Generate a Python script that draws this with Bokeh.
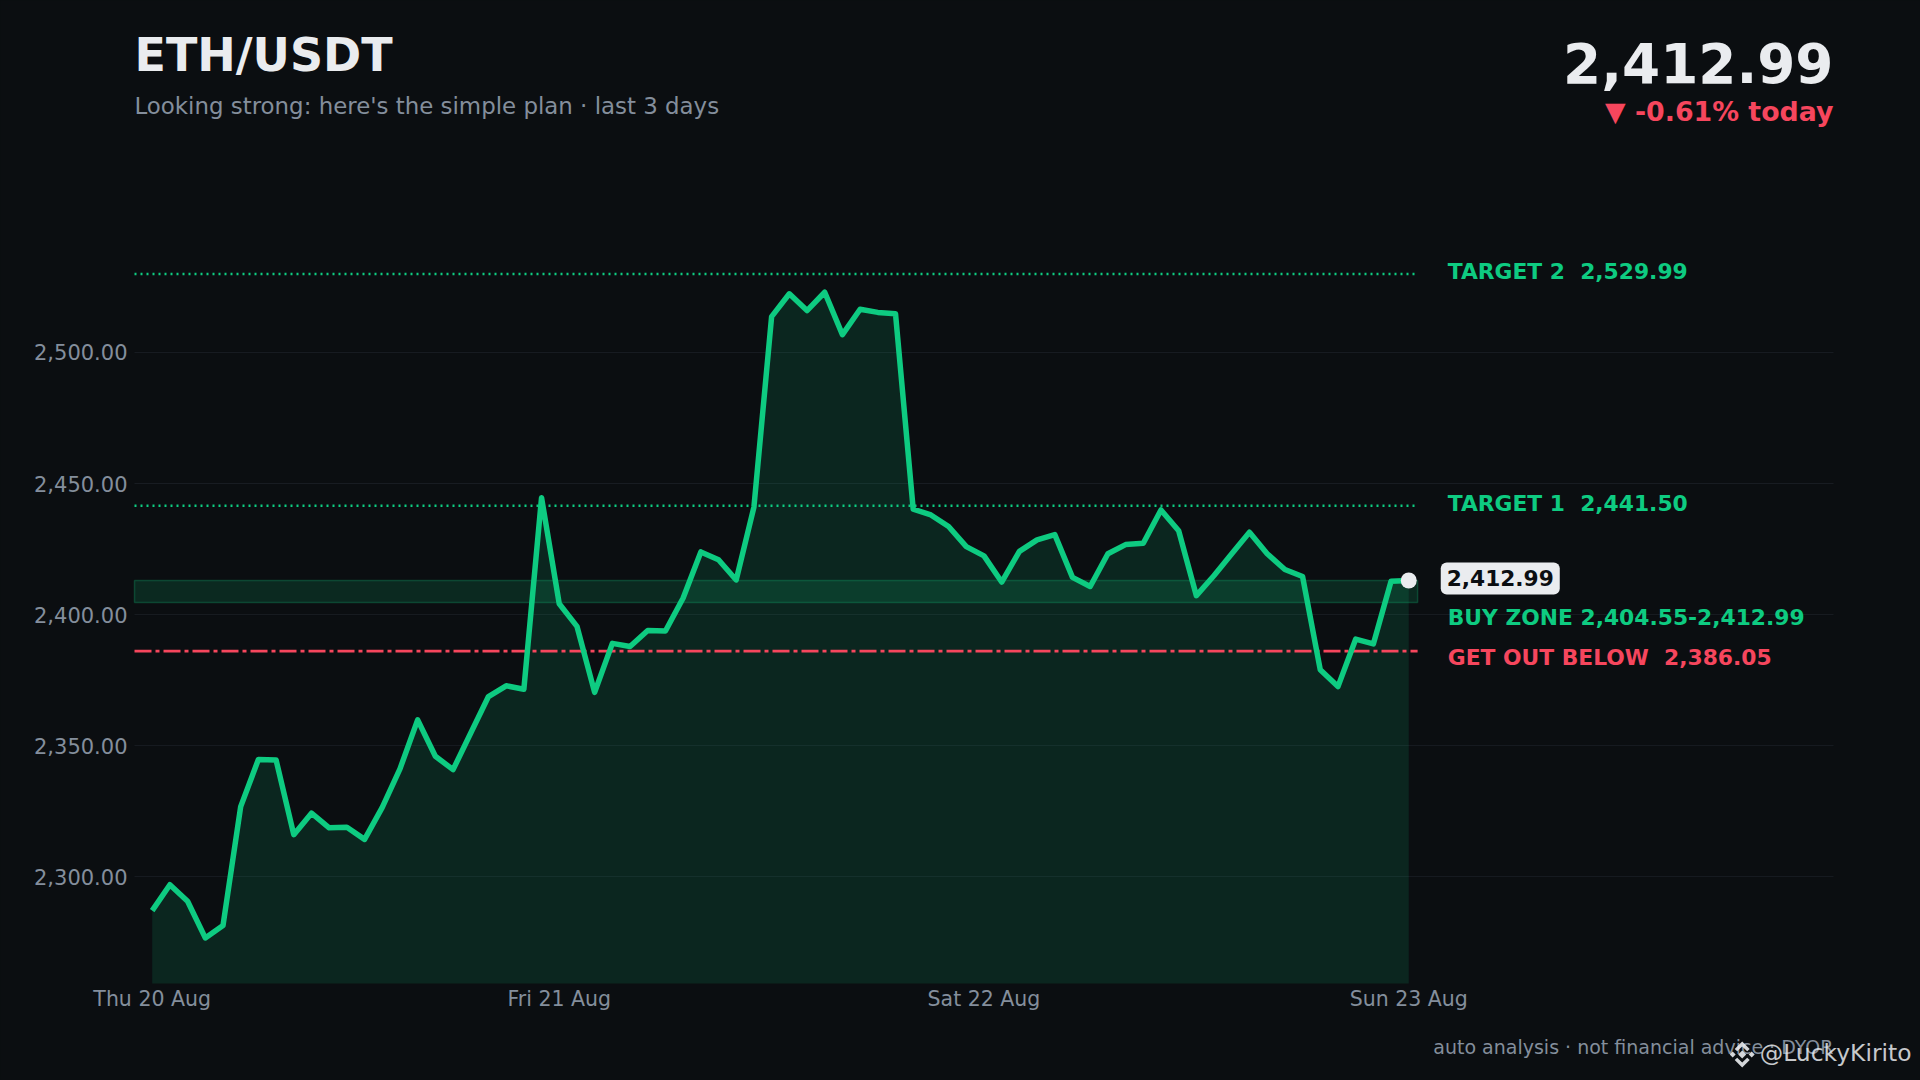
from bokeh.plotting import figure
from bokeh.models import Label, FixedTicker, GlobalInlineStyleSheet, PolyAnnotation
from bokeh.embed import file_html
from bokeh.resources import INLINE

prices = [2287.0,2296.9,2290.6,2276.6,2281.3,2326.7,2344.7,2344.5,2316.0,2324.2,2318.6,2318.8,
          2314.2,2326.4,2341.1,2359.8,2345.9,2340.8,2354.8,2368.7,2372.8,2371.5,2444.6,2404.1,
          2395.5,2370.3,2389.0,2387.8,2393.9,2393.7,2406.3,2423.9,2420.9,2413.2,2441.0,2513.7,
          2522.4,2516.0,2523.0,2506.8,2516.5,2515.3,2514.8,2440.2,2438.0,2433.6,2425.9,2422.4,
          2412.4,2424.1,2428.5,2430.5,2414.2,2410.7,2423.2,2426.7,2427.2,2439.9,2432.0,2407.2,
          2414.9,2423.2,2431.4,2423.2,2417.2,2414.5,2378.9,2372.5,2390.6,2388.8,2412.7,2412.99]
x_idx = list(range(len(prices)))
day_ticks = [0, 23, 47, 71]
day_labels = ["Thu 20 Aug", "Fri 21 Aug", "Sat 22 Aug", "Sun 23 Aug"]
y_ticks = [2300, 2350, 2400, 2450, 2500]
y_labels = ["2,300.00", "2,350.00", "2,400.00", "2,450.00", "2,500.00"]
target1, target2, stop = 2441.50, 2529.99, 2386.05
zone_low, zone_high = 2404.55, 2412.99
last = 2412.99
level_names = ["TARGET 2 \u00a02,529.99", "TARGET 1 \u00a02,441.50", "BUY ZONE 2,404.55-2,412.99", "GET OUT BELOW \u00a02,386.05"]
level_vals = [target2, target1, zone_low, stop]

BG = "#0B0E11"; GREEN = "#0ECB81"; RED = "#F6465D"; LIGHT = "#EAECEF"; GREY = "#848E9C"; GRID = "#181C22"
FONT = "DejaVu Sans"
W, H = 1920, 1080
F_LEFT, F_RIGHT, F_TOP, F_BOTTOM = 134, 1833, 200, 983
Y0, Y1 = 2259.2, 2558.0
XL, XR = -1, 95
LINE_END = 71.5

X_PER_PX = (XR - XL) / (F_RIGHT - F_LEFT)
Y_PER_PX = (Y1 - Y0) / (F_BOTTOM - F_TOP)


def dx(px):
    return XL + (px - F_LEFT) * X_PER_PX


def dy(py):
    return Y0 + (F_BOTTOM - py) * Y_PER_PX


# the frame fills the whole canvas so that the header and footer texts are drawn
p = figure(width=W, height=H, output_backend="svg", toolbar_location=None,
           x_range=(dx(0), dx(W)), y_range=(dy(H), dy(0)),
           background_fill_color=BG, border_fill_color=BG, min_border=0)
p.outline_line_color = None
p.stylesheets = [GlobalInlineStyleSheet(css=f"html,body{{background:{BG};}}")]
p.xgrid.visible = False
p.ygrid.visible = False
p.segment(x0=[XL] * len(y_ticks), x1=[XR] * len(y_ticks), y0=y_ticks, y1=y_ticks,
          line_color=GRID, line_width=1)

for ax in (p.xaxis[0], p.yaxis[0]):
    ax.axis_line_color = None
    ax.major_tick_line_color = None
    ax.minor_tick_line_color = None
    ax.major_tick_out = 0
    ax.major_tick_in = 0
    ax.minor_tick_out = 0
    ax.major_label_text_color = GREY
    ax.major_label_text_font = FONT
p.xaxis[0].fixed_location = Y0
p.yaxis[0].fixed_location = XL
p.xaxis[0].major_label_text_font_size = "20.5px"
p.yaxis[0].major_label_text_font_size = "21px"
p.xaxis[0].ticker = FixedTicker(ticks=day_ticks)
p.xaxis[0].major_label_overrides = dict(zip(day_ticks, day_labels))
p.xaxis[0].major_label_standoff = 3
p.yaxis[0].ticker = FixedTicker(ticks=y_ticks)
p.yaxis[0].major_label_overrides = dict(zip(y_ticks, y_labels))
p.yaxis[0].major_label_standoff = 7

p.varea(x_idx, y1=[Y0] * len(prices), y2=prices, fill_color=GREEN, fill_alpha=0.13)
p.quad(left=[XL], right=[LINE_END], bottom=[zone_low], top=[zone_high],
       fill_color=GREEN, fill_alpha=0.14, line_color=GREEN, line_alpha=0.25, line_width=1.5)
p.line([XL, LINE_END], [target2, target2], line_color=GREEN, line_width=2.5, line_dash="2 4")
p.line([XL, LINE_END], [target1, target1], line_color=GREEN, line_width=2.5, line_dash="2 4")
p.line([XL, LINE_END], [stop, stop], line_color=RED, line_width=2.6, line_dash="17 4 4 4")
p.line(x_idx, prices, line_color=GREEN, line_width=5.5, line_join="round")
p.scatter([x_idx[-1]], [last], size=16, color=LIGHT, line_color=None)

for name, val, off, col in zip(level_names, level_vals, [2, 2, -15, -6], [GREEN, GREEN, GREEN, RED]):
    p.add_layout(Label(x=x_idx[-1], y=val, x_offset=39, y_offset=off,
                       text=name, text_color=col, text_font=FONT, text_font_size="21.8px",
                       text_font_style="bold", text_baseline="middle"))

tag = Label(x=x_idx[-1], y=last, x_offset=32, y_offset=2, text="2,412.99", text_color="#0B0E11",
            text_font=FONT, text_font_size="21.7px", text_font_style="bold", text_baseline="middle",
            background_fill_color=LIGHT, border_radius=6, padding=(6, 8))
p.add_layout(tag)


def txt(text, x, y, size, color, bold=False, align="left", alpha=1.0, font=FONT):
    p.add_layout(Label(x=dx(x), y=dy(y), text=text, text_color=color,
                       text_font=font, text_font_size=f"{size}px",
                       text_font_style="bold" if bold else "normal", text_align=align,
                       text_baseline="alphabetic", text_alpha=alpha))


txt("ETH/USDT", 134, 54, 46, LIGHT, bold=True)
txt("Looking strong: here's the simple plan · last 3 days", 134, 105.5, 22.9, GREY)
txt("2,412.99", 1833, 62, 54.8, LIGHT, bold=True, align="right")
txt("▼ -0.61% today", 1833, 111, 26.8, RED, bold=True, align="right")
txt("auto analysis · not financial advice · DYOR", 1833, 1046, 19, GREY, align="right")
txt("@LuckyKirito", 1911, 1052, 23.4, LIGHT, align="right", alpha=0.85)

# watermark logo: five-part exchange mark
LX, LY = 1741.7, 1054
logo_parts = [
    [(0, -4), (4, 0), (0, 4), (-4, 0)],
    [(-9.5, -3), (-6.5, 0), (-9.5, 3), (-12.5, 0)],
    [(9.5, -3), (12.5, 0), (9.5, 3), (6.5, 0)],
    [(0, -13), (7.5, -5.5), (5, -3.2), (0, -8), (-5, -3.2), (-7.5, -5.5)],
    [(0, 13), (7.5, 5.5), (5, 3.2), (0, 8), (-5, 3.2), (-7.5, 5.5)],
]
for part in logo_parts:
    p.add_layout(PolyAnnotation(xs=[dx(LX + a) for a, _ in part], ys=[dy(LY + b) for _, b in part],
                                fill_color=LIGHT, fill_alpha=0.9, line_color=None))

open("out.html", "w").write(file_html(p, INLINE))
